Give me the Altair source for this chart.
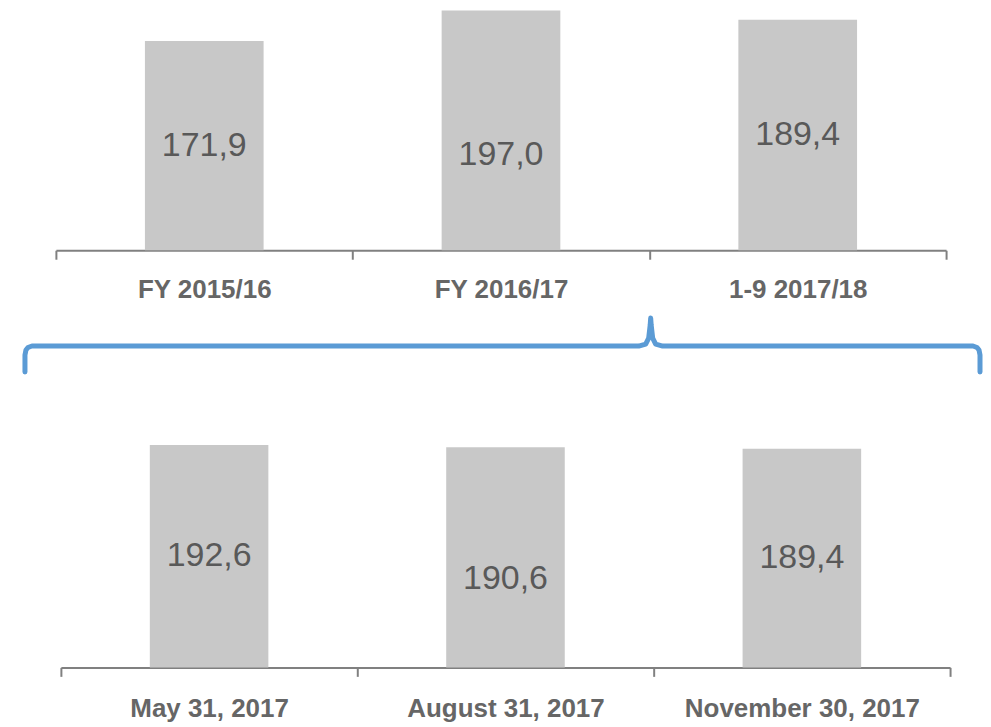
import altair as alt
import pandas as pd

# ---- data -------------------------------------------------------------
TOP_CATS = ["FY 2015/16", "FY 2016/17", "1-9 2017/18"]
TOP_VALUES = [171.9, 197.0, 189.4]

BOTTOM_CATS = ["May 31, 2017", "August 31, 2017", "November 30, 2017"]
BOTTOM_VALUES = [192.6, 190.6, 189.4]

# decorative brace shape (panel pixel units: x from left, y from top)
BRACKET_X = [17, 17, 18, 20, 24, 632, 639, 642, 643.5, 644, 644.5, 646, 649, 656, 967, 971, 973, 974, 974]
BRACKET_Y = [77, 60, 55, 52.5, 51, 51, 49, 43, 30, 23, 30, 43, 49, 51, 51, 52.5, 55, 60, 77]

FONT = "Liberation Sans, Arial, sans-serif"
BAR_COLOR = "#C8C8C8"
TEXT_COLOR = "#595959"
AXIS_LABEL_COLOR = "#666666"
AXIS_COLOR = "#808080"
BRACE_COLOR = "#5B9BD5"
TOTAL_W = 975


def panel(cats, vals, xrange, height, ymax, nudge_cat, nudge_units, label_pad):
    df = pd.DataFrame({
        "cat": cats,
        "v": vals,
        "label": [f"{v:.1f}".replace(".", ",") for v in vals],
    })
    x = alt.X(
        "cat:N",
        sort=cats,
        title=None,
        scale=alt.Scale(range=xrange, paddingInner=0, paddingOuter=0),
        axis=alt.Axis(
            labelAngle=0,
            labelFont=FONT,
            labelFontSize=26,
            labelFontWeight="bold",
            labelColor=AXIS_LABEL_COLOR,
            labelPadding=label_pad,
            labelLimit=0,
            domainColor=AXIS_COLOR,
            domainWidth=2,
            tickColor=AXIS_COLOR,
            tickWidth=2,
            tickSize=9,
            tickBand="extent",
            grid=False,
        ),
    )
    yscale = alt.Scale(domain=[0, ymax], nice=False, zero=True)
    base = alt.Chart(df)
    bars = base.mark_bar(color=BAR_COLOR, width=alt.RelativeBandSize(0.4)).encode(
        x=x, y=alt.Y("v:Q", scale=yscale, axis=None, title=None)
    )
    text = base.transform_calculate(
        mid=f"datum.v / 2 - (datum.cat == '{nudge_cat}' ? {nudge_units} : 0)"
    ).mark_text(
        font=FONT, fontSize=34, color=TEXT_COLOR, baseline="middle", align="center"
    ).encode(
        x=x,
        y=alt.Y("mid:Q", scale=yscale, axis=None, title=None),
        text="label:N",
    )
    return alt.layer(bars, text).properties(width=TOTAL_W, height=height)


top = panel(TOP_CATS, TOP_VALUES, [48, 940], 242, 198.4, "FY 2016/17", 20.5, 17)
bottom = panel(BOTTOM_CATS, BOTTOM_VALUES, [53, 944], 248, 214.3, "August 31, 2017", 19, 19)

bdf = pd.DataFrame({"x": BRACKET_X, "y": BRACKET_Y, "o": list(range(len(BRACKET_X)))})
bracket = alt.Chart(bdf).mark_line(
    color=BRACE_COLOR, strokeWidth=5, strokeCap="round", strokeJoin="round"
).encode(
    x=alt.X("x:Q", scale=alt.Scale(domain=[0, TOTAL_W], nice=False, zero=False), axis=None),
    y=alt.Y("y:Q", scale=alt.Scale(domain=[80, 0], nice=False, zero=False), axis=None),
    order="o:Q",
).properties(width=TOTAL_W, height=80)

chart = alt.vconcat(top, bracket, bottom, spacing=45, bounds="flush").properties(
    padding=0
).configure_view(stroke=None)

chart.save("out.html", embed_options={"renderer": "svg", "actions": False})
